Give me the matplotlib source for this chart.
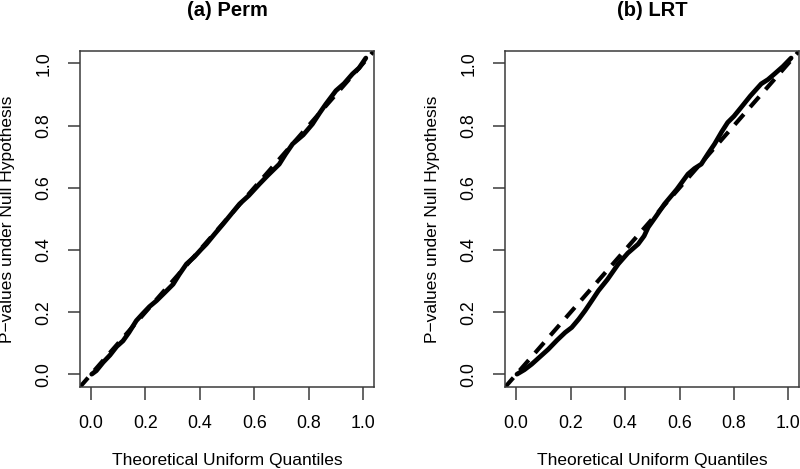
import matplotlib
matplotlib.use('Agg')
import matplotlib.pyplot as plt

plt.rcParams['font.family'] = ['Liberation Sans', 'DejaVu Sans']

perm_x = [0.003, 0.02, 0.045, 0.07, 0.095, 0.118, 0.14, 0.167, 0.19, 0.215, 0.241, 0.27,
          0.302, 0.325, 0.351, 0.38, 0.405, 0.424, 0.455, 0.485, 0.515, 0.546, 0.58, 0.619,
          0.65, 0.692, 0.715, 0.741, 0.78, 0.814, 0.84, 0.863, 0.9, 0.93, 0.961, 0.985, 1.01]
perm_y = [0.001, 0.012, 0.039, 0.062, 0.09, 0.108, 0.135, 0.173, 0.195, 0.218, 0.237, 0.262,
          0.29, 0.322, 0.355, 0.378, 0.402, 0.419, 0.452, 0.483, 0.515, 0.548, 0.575, 0.612,
          0.64, 0.676, 0.708, 0.741, 0.77, 0.805, 0.84, 0.869, 0.912, 0.935, 0.966, 0.985, 1.017]

lrt_x = [0.003, 0.03, 0.057, 0.085, 0.118, 0.15, 0.18, 0.204, 0.23, 0.253, 0.28, 0.302,
         0.335, 0.375, 0.41, 0.448, 0.47, 0.485, 0.515, 0.545, 0.59, 0.631, 0.655, 0.68,
         0.705, 0.729, 0.755, 0.777, 0.8, 0.827, 0.86, 0.9, 0.925, 0.949, 0.98, 1.01]
lrt_y = [0.001, 0.015, 0.033, 0.055, 0.081, 0.11, 0.135, 0.151, 0.178, 0.205, 0.24, 0.269,
         0.305, 0.355, 0.39, 0.419, 0.445, 0.473, 0.51, 0.548, 0.595, 0.644, 0.662, 0.676,
         0.71, 0.741, 0.78, 0.81, 0.83, 0.859, 0.895, 0.934, 0.948, 0.966, 0.99, 1.017]

titles = ['(a) Perm', '(b) LRT']
ticks = [0.0, 0.2, 0.4, 0.6, 0.8, 1.0]
tick_labels = ['0.0', '0.2', '0.4', '0.6', '0.8', '1.0']

fig = plt.figure(figsize=(8, 4.69), dpi=100)
ax_a = fig.add_axes([0.100, 0.175, 0.3675, 0.7165])
ax_b = fig.add_axes([0.6316, 0.175, 0.3675, 0.7165])

frame_col = '#3a3a3a'
panels = [(ax_a, perm_x, perm_y, titles[0]), (ax_b, lrt_x, lrt_y, titles[1])]
for ax, xs, ys, title in panels:
    ax.plot(xs, ys, color='black', lw=3.4, solid_capstyle='round', solid_joinstyle='round')
    ax.plot([-0.1, 1.1], [-0.1, 1.1], color='black', lw=3.0, dashes=(3.3, 2.3))  # abline(0, 1)
    ax.set_xlim(-0.04, 1.04)
    ax.set_ylim(-0.04, 1.04)
    ax.set_xticks(ticks)
    ax.set_xticklabels(tick_labels)
    ax.set_yticks(ticks)
    ax.set_yticklabels(tick_labels, rotation=90, va='center')
    ax.tick_params(length=9, width=1.1, color=frame_col, labelsize=12.8, pad=11)
    for s in ax.spines.values():
        s.set_color(frame_col)
        s.set_linewidth(1.1)
    ax.set_xlabel('Theoretical Uniform Quantiles', fontsize=12.5, va='center')
    ax.set_ylabel('P\u2212values under Null Hypothesis', fontsize=12.5, va='center')
    ax.xaxis.set_label_coords(0.5, -0.22)
    ax.yaxis.set_label_coords(-0.246, 0.5)

    # title sits near the top edge of the figure
    box = ax.get_position()
    fig.text((box.x0 + box.x1) / 2, 1 - 11 / 469, title, ha='center', va='center',
             fontsize=14.5, fontweight='bold')

fig.savefig('out.png', dpi=100)
